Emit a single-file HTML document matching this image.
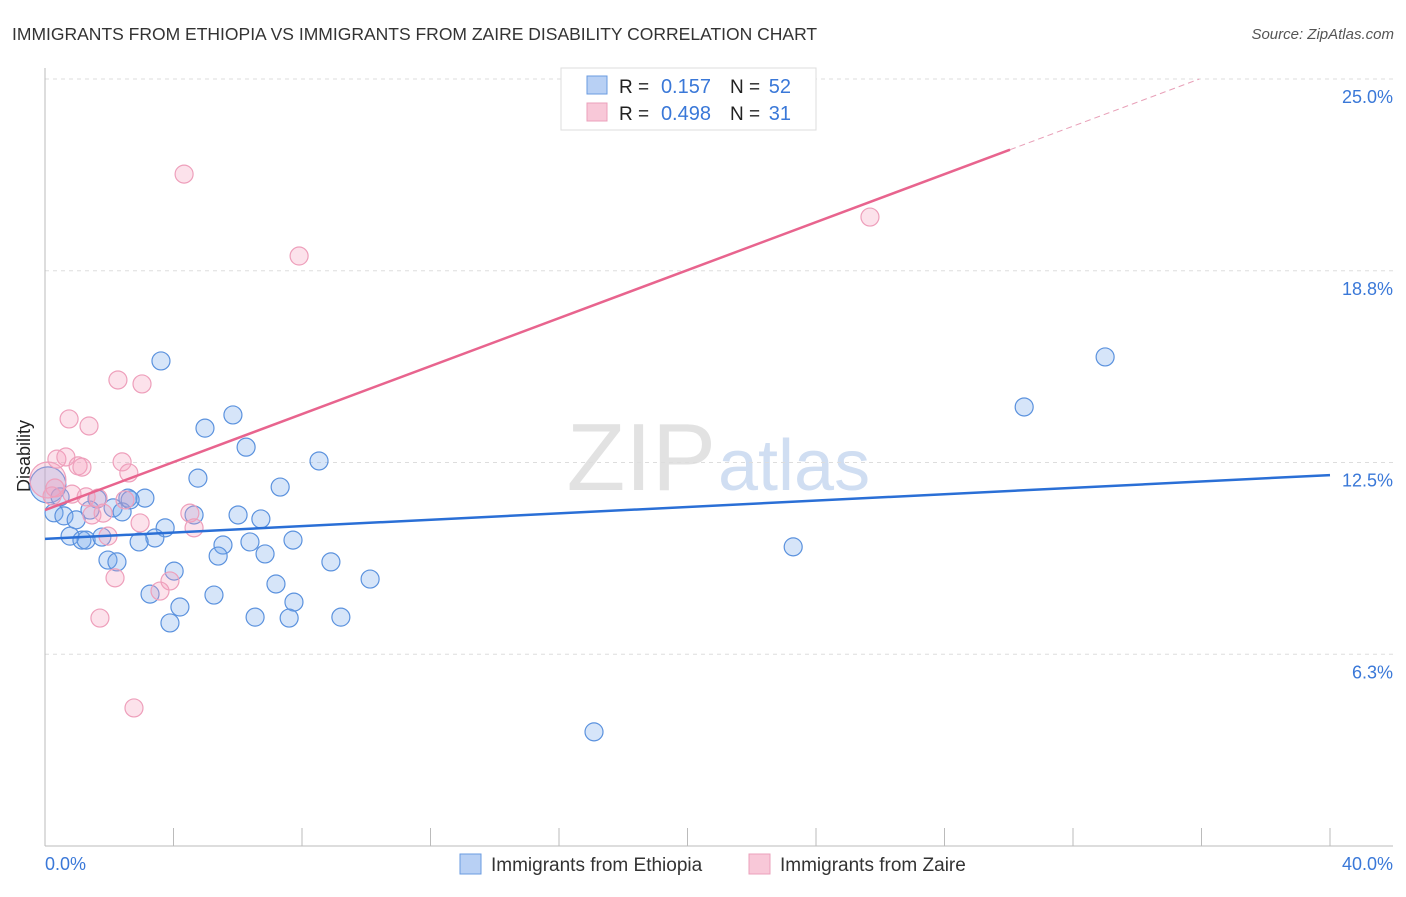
<!DOCTYPE html>
<html><head><meta charset="utf-8"><style>
body{margin:0;background:#fff;font-family:"Liberation Sans",sans-serif}
svg text{font-family:"Liberation Sans",sans-serif}
</style></head><body>
<svg id="c" width="1406" height="892">
<text x="12" y="40" font-size="17.5" fill="#333">IMMIGRANTS FROM ETHIOPIA VS IMMIGRANTS FROM ZAIRE DISABILITY CORRELATION CHART</text>
<text x="1394" y="39" font-size="15" fill="#555" text-anchor="end" font-style="italic">Source: ZipAtlas.com</text>
<text x="30" y="456" font-size="18" fill="#222" text-anchor="middle" transform="rotate(-90 30 456)">Disability</text>
<text x="716" y="490" font-size="96" fill="#e2e2e2" text-anchor="end" font-family="Liberation Serif">ZIP</text>
<text x="718" y="490" font-size="72" fill="#d0def2">atlas</text>
<g id="grid"></g><g id="axes"></g><g id="pts"></g><g id="lines"></g>
<g>
<rect x="561" y="68" width="255" height="62" fill="#fff" stroke="#ddd"/>
<rect x="587" y="76" width="20" height="18" fill="#b8d0f4" stroke="#6a9be0"/>
<rect x="587" y="103" width="20" height="18" fill="#f8c8d8" stroke="#eba0bb"/>
<text x="619" y="93" font-size="19" fill="#222">R =</text>
<text x="711" y="93" font-size="20" fill="#3a78d8" text-anchor="end">0.157</text>
<text x="730" y="93" font-size="19" fill="#222">N =</text>
<text x="791" y="93" font-size="20" fill="#3a78d8" text-anchor="end">52</text>
<text x="619" y="120" font-size="19" fill="#222">R =</text>
<text x="711" y="120" font-size="20" fill="#3a78d8" text-anchor="end">0.498</text>
<text x="730" y="120" font-size="19" fill="#222">N =</text>
<text x="791" y="120" font-size="20" fill="#3a78d8" text-anchor="end">31</text>
</g>
<g>
<rect x="460" y="854" width="21" height="20" fill="#b8d0f4" stroke="#6a9be0"/>
<text x="491" y="871" font-size="19" fill="#333">Immigrants from Ethiopia</text>
<rect x="749" y="854" width="21" height="20" fill="#f8c8d8" stroke="#eba0bb"/>
<text x="780" y="871" font-size="19" fill="#333">Immigrants from Zaire</text>
</g>
</svg>
<script>
const yTicks=[6.25,12.5,18.75,25];
const yTickLabels=["6.3%","12.5%","18.8%","25.0%"];
const xTickLabels=["0.0%","40.0%"];
const ethX=[3.61,5.85,4.98,6.26,8.53,4.76,7.32,3.11,2.58,1.62,2.12,1.40,2.40,0.28,0.59,0.97,4.64,6.01,6.72,3.74,0.78,1.15,1.28,1.77,3.42,2.93,6.38,5.54,7.72,5.39,6.85,1.96,2.24,8.90,4.02,7.19,10.12,3.27,5.26,4.20,7.75,3.89,6.54,7.60,9.21,0.09,33.0,30.48,23.29,17.09,0.47,2.65];
const ethY=[15.81,14.05,13.62,13.00,12.55,11.99,11.70,11.34,11.34,11.31,11.02,10.95,10.89,10.86,10.76,10.63,10.79,10.79,10.66,10.37,10.10,9.97,9.97,10.07,10.04,9.91,9.91,9.81,9.97,9.45,9.52,9.32,9.26,9.26,8.96,8.54,8.70,8.21,8.18,7.79,7.95,7.27,7.46,7.43,7.46,11.77,15.94,14.31,9.75,3.72,11.38,11.28];
const zaiX=[4.33,7.91,25.68,2.27,3.02,0.75,1.37,0.37,0.65,1.03,1.15,2.40,2.61,0.09,0.31,0.84,1.28,1.65,2.49,1.46,1.81,2.96,4.51,4.64,1.96,2.18,3.89,3.58,1.71,2.77,0.22];
const zaiY=[21.90,19.23,20.50,15.19,15.06,13.92,13.69,12.61,12.68,12.39,12.35,12.52,12.16,11.93,11.67,11.47,11.38,11.34,11.28,10.79,10.85,10.53,10.85,10.37,10.10,8.74,8.64,8.31,7.43,4.50,11.41];
const ethLine=[10.01,12.09];
const zaiLine=[10.95,0.391];
const NS="http://www.w3.org/2000/svg";
const X0=45,X1=1330,Y0=846,Y25=79;
function sx(v){return X0+v/40*(X1-X0);}
function sy(v){return Y0-v/25*(Y0-Y25);}
function mk(t,a,p){const e=document.createElementNS(NS,t);for(const k in a)e.setAttribute(k,a[k]);document.getElementById(p).appendChild(e);return e;}
yTicks.forEach((t,i)=>{
 const g=mk('line',{x1:X0,x2:1393,y1:sy(t),y2:sy(t),stroke:'#ddd','stroke-dasharray':'4 4'},'grid');
 
 
 const l=mk('text',{x:1393,y:sy(t)+24,'font-size':18,fill:'#3a78d8','text-anchor':'end'},'axes');
 l.textContent=yTickLabels[i];
 
 
});
const ya=mk('line',{x1:X0,x2:X0,y1:68,y2:Y0,stroke:'#bbb'},'axes');


const xa=mk('line',{x1:X0,x2:1393,y1:Y0,y2:Y0,stroke:'#bbb'},'axes');


for(let i=0;i<=10;i++){
 const t=mk('line',{x1:sx(i*4),x2:sx(i*4),y1:Y0-18,y2:Y0,stroke:'#bbb'},'axes');
 
 
}
[[0,'start',45],[40,'end',1393]].forEach((d,i)=>{
 const l=mk('text',{x:d[2],y:870,'font-size':18,fill:'#3a78d8','text-anchor':d[1]},'axes');
 l.textContent=xTickLabels[i];
 
 
});
function pts(xs,ys,fill,stroke,name){
 xs.forEach((x,i)=>{
  const big=x<0.15;
  const c=mk('circle',{cx:sx(x),cy:sy(ys[i]),r:big?18:9,fill:fill,stroke:stroke,'stroke-width':1.2},'pts');
  
  
 });
}
pts(ethX,ethY,'rgba(120,168,235,0.3)','#5b92de','point-ethiopia');
pts(zaiX,zaiY,'rgba(245,160,188,0.3)','#ee9fbb','point-zaire');
const bl=mk('line',{x1:sx(0),y1:sy(ethLine[0]),x2:sx(40),y2:sy(ethLine[1]),stroke:'#2a6fd6','stroke-width':2.5},'lines');


const xe=30.04, xd=(25-zaiLine[0])/zaiLine[1];
const pl=mk('line',{x1:sx(0),y1:sy(zaiLine[0]),x2:sx(xe),y2:sy(zaiLine[0]+zaiLine[1]*xe),stroke:'#e8648e','stroke-width':2.5},'lines');


const pd=mk('line',{x1:sx(xe),y1:sy(zaiLine[0]+zaiLine[1]*xe),x2:sx(xd),y2:sy(25),stroke:'#e8a0b8','stroke-width':1,'stroke-dasharray':'6 4'},'lines');


</script>
</body></html>
